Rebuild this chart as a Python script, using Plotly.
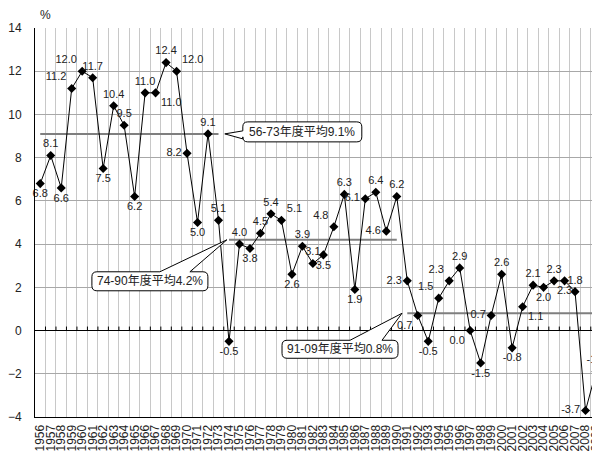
import plotly.graph_objects as go

years = list(range(1956, 2010))
growth = [6.8, 8.1, 6.6, 11.2, 12.0, 11.7, 7.5, 10.4, 9.5, 6.2,
          11.0, 11.0, 12.4, 12.0, 8.2, 5.0, 9.1, 5.1, -0.5, 4.0,
          3.8, 4.5, 5.4, 5.1, 2.6, 3.9, 3.1, 3.5, 4.8, 6.3,
          1.9, 6.1, 6.4, 4.6, 6.2, 2.3, 0.7, -0.5, 1.5, 2.3,
          2.9, 0.0, -1.5, 0.7, 2.6, -0.8, 1.1, 2.1, 2.0, 2.3,
          2.3, 1.8, -3.7, -1.9]
period_labels = ["56-73年度平均9.1%", "74-90年度平均4.2%", "91-09年度平均0.8%"]
period_start = [1956, 1974, 1991]
period_end = [1973, 1990, 2009]
period_avg = [9.1, 4.2, 0.8]
y_ticks = [-4, -2, 0, 2, 4, 6, 8, 10, 12, 14]

# label placement (style)
text_pos = ["bottom center", "top center", "bottom center", "top left", "top left",
            "top center", "bottom center", "top center", "top center", "bottom center",
            "top center", "bottom right", "top center", "top right", "middle left",
            "bottom center", "top center", "top center", "bottom center", "top center",
            "bottom center", "top center", "top center", "top right", "bottom center",
            "top center", "top center", "bottom center", "top left", "top center",
            "bottom center", "middle left", "top center", "middle left", "top center",
            "middle left", "bottom left", "bottom center", "top left", "top left",
            "top center", "bottom left", "bottom center", "middle left", "top center",
            "bottom center", "bottom right", "top center", "bottom center", "top center",
            "bottom center", "top center", "middle left", "top center"]

FONT = "Liberation Sans, Noto Sans CJK JP, sans-serif"
idx = list(range(len(years)))
labels = [f"{v:.1f}" for v in growth]

fig = go.Figure()

# period average lines
for s, e, a in zip(period_start, period_end, period_avg):
    fig.add_trace(go.Scatter(
        x=[years.index(s), years.index(e)], y=[a, a], mode="lines",
        line=dict(color="#7f7f7f", width=2), hoverinfo="skip", showlegend=False))

fig.add_trace(go.Scatter(
    x=idx, y=growth, mode="lines+markers+text",
    line=dict(color="black", width=1),
    marker=dict(symbol="diamond", size=7, color="black"),
    text=labels, textposition=text_pos,
    textfont=dict(family=FONT, size=11, color="#222222"),
    showlegend=False, cliponaxis=False))

shapes = []
# small ticks on the zero line at category boundaries
for i in idx[:-1]:
    shapes.append(dict(type="line", xref="x", yref="y", x0=i + 0.5, x1=i + 0.5,
                       ysizemode="pixel", yanchor=0, y0=0, y1=4,
                       line=dict(color="black", width=1)))


def callout_path(left, right, top, bottom, side, b0, b1, r=5):
    cmds = []
    def P(x, y):
        return f"{x},{-y}"
    cmds.append("M" + P(left + r, top))
    if side == "top":
        cmds.append("L" + P(b0, top))
        cmds.append("L" + P(0, 0))
        cmds.append("L" + P(b1, top))
    cmds.append("L" + P(right - r, top))
    cmds.append("Q" + P(right, top) + " " + P(right, top + r))
    cmds.append("L" + P(right, bottom - r))
    cmds.append("Q" + P(right, bottom) + " " + P(right - r, bottom))
    cmds.append("L" + P(left + r, bottom))
    cmds.append("Q" + P(left, bottom) + " " + P(left, bottom - r))
    if side == "left":
        cmds.append("L" + P(left, b1))
        cmds.append("L" + P(0, 0))
        cmds.append("L" + P(left, b0))
    cmds.append("L" + P(left, top + r))
    cmds.append("Q" + P(left, top) + " " + P(left + r, top))
    cmds.append("Z")
    return " ".join(cmds)


# callout geometry in pixels relative to the pointer tip (screen y downward)
callouts = [
    dict(tipx=years.index(period_end[0]) + 0.6, tipy=period_avg[0],
         box=(18, 137, -12, 8), side="left", base=(-3, 5)),
    dict(tipx=years.index(period_start[1]) - 0.2, tipy=period_avg[1],
         box=(-135, -19, 32, 51), side="top", base=(-67, -37)),
    dict(tipx=years.index(period_start[2]) - 0.5, tipy=period_avg[2],
         box=(-120, -4, 27, 45), side="top", base=(-52, -20)),
]

annotations = []
for c, lab in zip(callouts, period_labels):
    l, rr, t, b = c["box"]
    shapes.append(dict(type="path", xref="x", yref="y",
                       xsizemode="pixel", ysizemode="pixel",
                       xanchor=c["tipx"], yanchor=c["tipy"],
                       path=callout_path(l, rr, t, b, c["side"], *c["base"]),
                       fillcolor="white", line=dict(color="black", width=1),
                       layer="above"))
    annotations.append(dict(x=c["tipx"], y=c["tipy"], xref="x", yref="y",
                            xshift=(l + rr) / 2, yshift=-(t + b) / 2,
                            text=lab, showarrow=False,
                            font=dict(family=FONT, size=12, color="#222222"),
                            xanchor="center", yanchor="middle"))

annotations.append(dict(x=0.018, y=1.033, xref="paper", yref="paper", text="%",
                        showarrow=False, xanchor="center", yanchor="middle",
                        font=dict(family=FONT, size=12, color="#222222")))

# page body adds ~8px offset; margins compensate so the plot lands where the reference has it
fig.update_layout(
    width=600, height=453,
    margin=dict(l=27, r=8, t=20, b=44, autoexpand=False),
    plot_bgcolor="white", paper_bgcolor="white",
    font=dict(family=FONT, size=12, color="#222222"),
    shapes=shapes, annotations=annotations,
    xaxis=dict(range=[-0.5, 53.38], tickmode="array", tickvals=idx,
               ticktext=[str(y) for y in years], tickangle=-90,
               tickfont=dict(family=FONT, size=12, color="#222222"),
               showgrid=False, zeroline=False, automargin=False,
               ticklabeloverflow="allow",
               showline=True, linecolor="black", linewidth=1,
               ticks="", ticklabelstandoff=2,
               minor=dict(tickmode="array", tickvals=[i + 0.5 for i in idx[:-1]],
                          showgrid=True, gridcolor="#c8c8c8", gridwidth=1, ticks="")),
    yaxis=dict(range=[-4, 14], tickmode="array", tickvals=y_ticks,
               tickfont=dict(family=FONT, size=12, color="#222222"),
               showgrid=True, gridcolor="#a8a8a8", gridwidth=1, automargin=False,
               zeroline=True, zerolinecolor="black", zerolinewidth=1,
               showline=True, linecolor="black", linewidth=1,
               ticks="", ticklabelstandoff=10),
)

fig.write_html("out.html")
